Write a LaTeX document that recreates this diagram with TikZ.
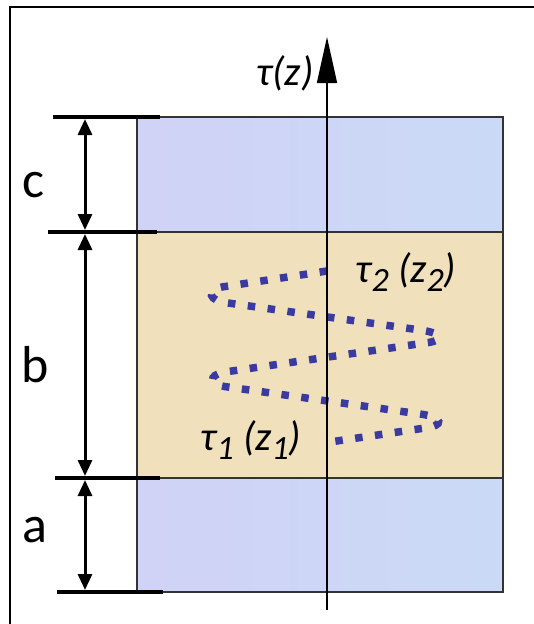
\documentclass[tikz,border=0pt]{standalone}
\usepackage{fontspec}
\setmainfont{Carlito}
\usetikzlibrary{arrows.meta}
\definecolor{layerblueA}{RGB}{208,210,246}
\definecolor{layerblueB}{RGB}{202,218,246}
\definecolor{layerbeige}{RGB}{240,225,188}
\definecolor{dotblue}{RGB}{58,58,160}
\newcommand\subsc[1]{\raisebox{-0.22em}{\fontsize{34}{34}\selectfont #1}}
\tikzset{
  frameline/.style={line width=1.6pt,black},
  tickline/.style={line width=3.6pt,black},
  dimarrow/.style={line width=3pt,black,{Triangle[length=16pt,width=14pt]}-{Triangle[length=16pt,width=14pt]}},
  layer/.style={draw=black!80,line width=1.5pt},
  axisline/.style={line width=1.5pt,black,-{Triangle[length=46pt,width=20pt]}},
  dimlabel/.style={font=\fontsize{52}{54}\selectfont,inner sep=0pt},
  taulabel/.style={font=\fontsize{41}{43}\selectfont\itshape,inner sep=0pt},
  dotpath/.style={dotblue,line width=7.5pt,dash pattern=on 7.5pt off 12.5pt}
}
\begin{document}
\begin{tikzpicture}[x=1pt,y=-1pt]
\useasboundingbox (0,0) rectangle (534,624);
\fill[white] (0,0) rectangle (534,624);
% frame
\draw[frameline] (10,624) -- (10,7) -- (534,7);
% layers
\shade[left color=layerblueA,right color=layerblueB] (137,117) rectangle (503,232);
\fill[layerbeige] (137,232) rectangle (503,478);
\shade[left color=layerblueA,right color=layerblueB] (137,478) rectangle (503,592);
\draw[layer] (137,117) rectangle (503,592);
\draw[layer] (137,232) -- (503,232);
\draw[layer] (137,478) -- (503,478);
% tick lines
\coordinate (t1l) at (53,117); \coordinate (t1r) at (160,117);
\coordinate (t2l) at (48,232); \coordinate (t2r) at (157,232);
\coordinate (t3l) at (55,478); \coordinate (t3r) at (160,478);
\coordinate (t4l) at (57,592); \coordinate (t4r) at (163,592);
\draw[tickline] (t1l) -- (t1r);
\draw[tickline] (t2l) -- (t2r);
\draw[tickline] (t3l) -- (t3r);
\draw[tickline] (t4l) -- (t4r);
% dimension arrows
\coordinate (d1) at (85,119); \coordinate (d2) at (85,230);
\coordinate (d3) at (85,234); \coordinate (d4) at (85,476);
\coordinate (d5) at (85,480); \coordinate (d6) at (85,590);
\draw[dimarrow] (d1) -- (d2);
\draw[dimarrow] (d3) -- (d4);
\draw[dimarrow] (d5) -- (d6);
\node[dimlabel] (lc) at (33,185) {c};
\node[dimlabel] (lb) at (35,365) {b};
\node[dimlabel] (la) at (35,530) {a};
% dotted curve
\draw[dotpath] (327,271) -- (222,287) .. controls (206,290) and (208,301) .. (228,303)
  -- (420,330) .. controls (444,333) and (444,341) .. (425,343)
  -- (225,372) .. controls (207,375) and (209,385) .. (228,387)
  -- (420,414) .. controls (444,417) and (444,426) .. (425,428)
  -- (330,442);
% axis
\coordinate (ab) at (327,610); \coordinate (at) at (327,37);
\draw[axisline] (ab) -- (at);
\node[taulabel] (tz) at (285,73) {τ(z)};
\node[taulabel] (t2) at (406,272) {τ\subsc{2} (z\subsc{2})};
\node[taulabel] (t1) at (251,440) {τ\subsc{1} (z\subsc{1})};
\end{tikzpicture}
\end{document}
